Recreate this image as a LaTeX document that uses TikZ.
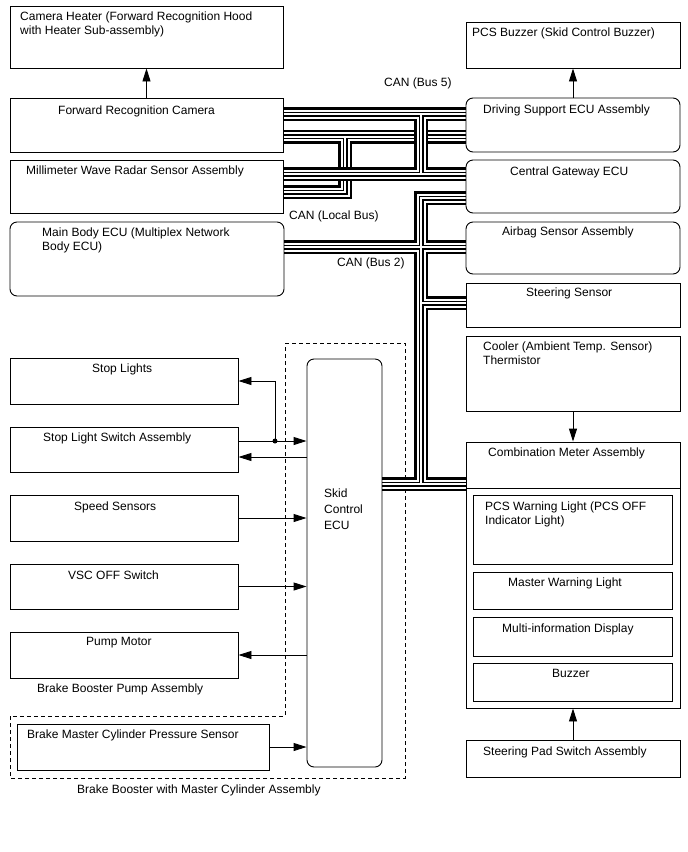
\documentclass[tikz,border=0pt]{standalone}
\usepackage{fontspec}
\setmainfont{Liberation Sans}
\usetikzlibrary{arrows.meta, backgrounds}
% CAN pair: outer border, two wires
\newcommand{\canbus}[1]{%
  \draw[line width=14pt] #1;
  \draw[line width=9pt, white] #1;
  \draw[line width=5pt] #1;
  \draw[line width=2pt, white] #1;}

\begin{document}
\begin{tikzpicture}[
  x=1pt, y=-1pt,
  font=\fontsize{12}{14}\selectfont,
  >={Triangle[length=13pt, width=8pt]},
  box/.style={draw, line width=0.9pt, inner sep=0pt},
  rbox/.style={box, rounded corners=7pt},
  txt/.style={anchor=north west, inner sep=0pt, align=left},
  arr/.style={->, line width=0.9pt},
  grp/.style={line width=0.9pt, dash pattern=on 4pt off 3pt},
  dot/.style={circle, fill, inner sep=0pt, minimum size=5pt},
]
\useasboundingbox (0,0) rectangle (688,852);

% left column
\node[box, minimum width=273, minimum height=62] (heater) at (146.5,37) {};
\node[box, minimum width=273, minimum height=54] (cam) at (146.5,125) {};
\node[box, minimum width=273, minimum height=53] (radar) at (146.5,186.5) {};
\node[rbox, minimum width=274, minimum height=74] (body) at (147,259) {};

% right column
\node[box, minimum width=214, minimum height=46] (buzz) at (573,45) {};
\node[rbox, minimum width=214, minimum height=54] (ds) at (573,125) {};
\node[rbox, minimum width=214, minimum height=53] (gw) at (573,186.5) {};
\node[rbox, minimum width=214, minimum height=52] (airbag) at (573,248) {};
\node[box, minimum width=214, minimum height=44] (steer) at (573,305) {};
\node[box, minimum width=214, minimum height=75] (cool) at (573,373.5) {};
\node[box, minimum width=214, minimum height=266] (meter) at (573,575) {};
\node[box, minimum width=199, minimum height=69] (pcsw) at (572.5,529.5) {};
\node[box, minimum width=199, minimum height=37] (mwl) at (572.5,590.5) {};
\node[box, minimum width=199, minimum height=39] (mid) at (572.5,636.5) {};
\node[box, minimum width=199, minimum height=38] (mbuz) at (572.5,682) {};
\node[box, minimum width=214, minimum height=37] (pad) at (573,758.5) {};

% brake side
\node[box, minimum width=228, minimum height=46] (stop) at (124,381) {};
\node[box, minimum width=228, minimum height=45] (sw) at (124,449.5) {};
\node[box, minimum width=228, minimum height=46] (speed) at (124,518) {};
\node[box, minimum width=228, minimum height=45] (vsc) at (124,586.5) {};
\node[box, minimum width=228, minimum height=46] (pump) at (124,655) {};
\node[box, minimum width=252, minimum height=46] (bmc) at (143,747) {};
\node[rbox, minimum width=75, minimum height=408] (ecu) at (344.5,563) {};

% bus levels
\coordinate (b5t) at (0,114);
\coordinate (b5b) at (0,174);
\coordinate (b5v) at (421,0);
\coordinate (lbt) at (0,136.5);
\coordinate (lbb) at (0,192);
\coordinate (lbv) at (345,0);
\coordinate (b2t) at (0,198);
\coordinate (b2m) at (0,247);
\coordinate (b2s) at (0,303);
\coordinate (b2e) at (0,484);
\coordinate (b2v) at (421,0);
\coordinate (sep) at (0,488);
\coordinate (swOut) at (0,457);

\begin{scope}[on background layer]
\draw[grp] (285,343) -- (405,343) -- (405,778) -- (10,778) -- (10,716)
  -- (285,716) -- cycle;
\canbus{(cam.east |- lbt) -- (ds.west |- lbt)
  (lbv |- lbt) -- (lbv |- lbb) -- (radar.east |- lbb)}
\canbus{(cam.east |- b5t) -- (ds.west |- b5t)
  (b5v |- b5t) -- (b5v |- b5b)
  (radar.east |- b5b) -- (gw.west |- b5b)}
\canbus{(gw.west |- b2t) -- (b2v |- b2t) -- (b2v |- b2e)
  (body.east |- b2m) -- (airbag.west |- b2m)
  (b2v |- b2s) -- (steer.west |- b2s)
  (ecu.east |- b2e) -- (meter.west |- b2e)}
\end{scope}

\draw[line width=0.9pt] (meter.west |- sep) -- (meter.east |- sep);

% texts
\node[txt] (heaterT) at (20,11.5) {Camera Heater (Forward Recognition Hood\\with Heater Sub-assembly)};
\node[txt] (camT) at (58,105.5) {Forward Recognition Camera};
\node[txt] (radarT) at (26,165.5) {Millimeter Wave Radar Sensor Assembly};
\node[txt] (bodyT) at (42,227.5) {Main Body ECU (Multiplex Network\\Body ECU)};
\node[txt] (buzzT) at (472,27.5) {PCS Buzzer (Skid Control Buzzer)};
\node[txt] (dsT) at (483,104.5) {Driving Support ECU Assembly};
\node[txt] (gwT) at (510,166.5) {Central Gateway ECU};
\node[txt] (airT) at (502,226.5) {Airbag Sensor Assembly};
\node[txt] (steerT) at (526,287.5) {Steering Sensor};
\node[txt] (coolT) at (483,341.5) {Cooler (Ambient Temp. Sensor)\\Thermistor};
\node[txt] (meterT) at (488,448) {Combination Meter Assembly};
\node[txt] (pcswT) at (485,501.5) {PCS Warning Light (PCS OFF\\Indicator Light)};
\node[txt] (mwlT) at (508,577.5) {Master Warning Light};
\node[txt] (midT) at (502,623.5) {Multi-information Display};
\node[txt] (mbuzT) at (552,669.5) {Buzzer};
\node[txt] (padT) at (483,746.5) {Steering Pad Switch Assembly};
\node[txt] (stopT) at (92,363.5) {Stop Lights};
\node[txt] (swT) at (43,432.5) {Stop Light Switch Assembly};
\node[txt] (speedT) at (74,501.5) {Speed Sensors};
\node[txt] (vscT) at (68,570.5) {VSC OFF Switch};
\node[txt] (pumpT) at (86,637.5) {Pump Motor};
\node[txt] (pumpAsmT) at (37,683.5) {Brake Booster Pump Assembly};
\node[txt] (bmcT) at (27,729.5) {Brake Master Cylinder Pressure Sensor};
\node[txt] (boosterT) at (77,784.5) {Brake Booster with Master Cylinder Assembly};
\node[txt, font=\fontsize{12}{16}\selectfont] (ecuT) at (324,488.5) {Skid\\Control\\ECU};
\node[txt] (can5T) at (384,77.5) {CAN (Bus 5)};
\node[txt] (canLT) at (289,210.5) {CAN (Local Bus)};
\node[txt] (can2T) at (337,257.5) {CAN (Bus 2)};

% signal lines
\node[dot] (jn) at (275,441) {};
\draw[arr] (cam.north) -- (heater.south);
\draw[arr] (ds.north) -- (buzz.south);
\draw[arr] (cool.south) -- (meter.north);
\draw[arr] (pad.north) -- (meter.south);
\draw[arr] (sw.east |- jn) -- (ecu.west |- jn);
\draw[arr] (jn.center) |- (stop.east);
\draw[arr] (ecu.west |- swOut) -- (sw.east |- swOut);
\draw[arr] (speed.east) -- (speed.east -| ecu.west);
\draw[arr] (vsc.east) -- (vsc.east -| ecu.west);
\draw[arr] (pump.east -| ecu.west) -- (pump.east);
\draw[arr] (bmc.east) -- (bmc.east -| ecu.west);

\end{tikzpicture}
\end{document}
